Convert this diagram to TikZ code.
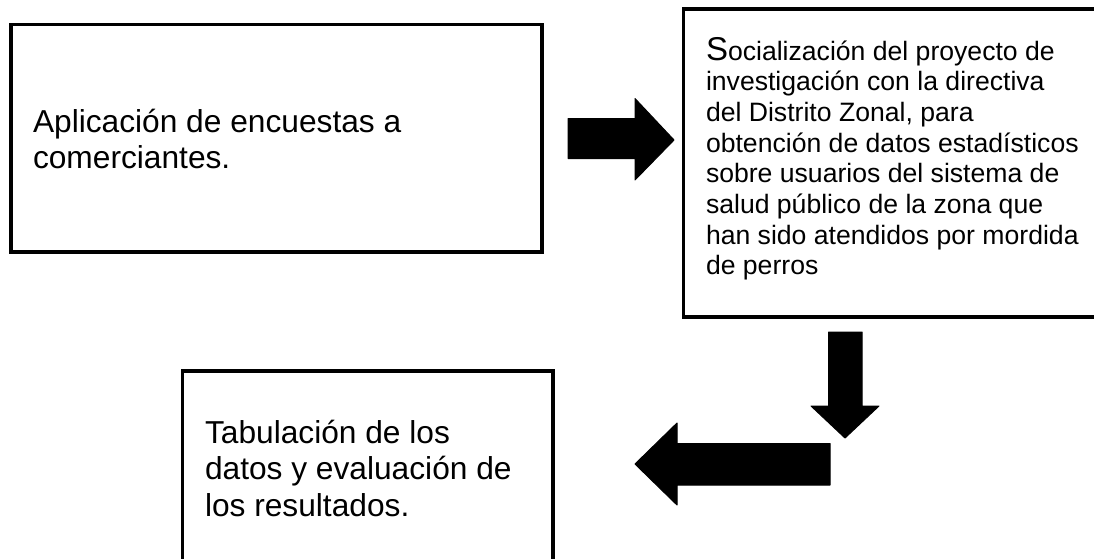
\documentclass[tikz,border=0pt]{standalone}
\usepackage{fontspec}
\setmainfont{Liberation Sans}
\begin{document}
\begin{tikzpicture}[x=1pt,y=-1pt,
  box/.style={draw=black, line width=3.6pt, rectangle, inner sep=0pt},
  txt/.style={anchor=base west, inner sep=0pt, outer sep=0pt},
  bigtxt/.style={font=\fontsize{31.7pt}{36.8pt}\selectfont},
  smalltxt/.style={font=\fontsize{26.6pt}{30.7pt}\selectfont},
  blockarrow/.style={fill=black, draw=black, line width=1pt, line join=round}]
\clip (0,0) rectangle (1094,558);
% boxes
\node[box, minimum width=531.3pt, minimum height=227.5pt] (b1) at (276.6,138.2) {};
\node[box, minimum width=430pt, minimum height=307.7pt] (b2) at (898.5,162.9) {};
\node[box, minimum width=370.3pt, minimum height=230pt] (b3) at (367.7,485.7) {};
% texts
\node[txt,bigtxt] (t1) at (33,132) {\vtop{\hbox{Aplicación de encuestas a}\hbox{comerciantes.}}};
\node[txt,smalltxt] (t2) at (706,60) {\vtop{%
\hbox{{\fontsize{33pt}{33pt}\selectfont S}ocialización del proyecto de}%
\hbox{investigación con la directiva}%
\hbox{del Distrito Zonal, para}%
\hbox{obtención de datos estadísticos}%
\hbox{sobre usuarios del sistema de}%
\hbox{salud público de la zona que}%
\hbox{han sido atendidos por mordida}%
\hbox{de perros}}};
\node[txt,bigtxt] (t3) at (205,443) {\vtop{\hbox{Tabulación de los}\hbox{datos y evaluación de}\hbox{los resultados.}}};
% block arrows
\fill[blockarrow] (568,118.5) -- (635,118.5) -- (635,98.5) -- (674,140) -- (635,180) -- (635,158.5) -- (568,158.5) -- cycle;
\fill[blockarrow] (828.5,332) -- (862,332) -- (862,406) -- (879,406) -- (845,438) -- (811,406) -- (828.5,406) -- cycle;
\fill[blockarrow] (830,443.5) -- (830,485) -- (677,485) -- (677,505) -- (635,464) -- (677,423) -- (677,443.5) -- cycle;
\end{tikzpicture}
\end{document}
